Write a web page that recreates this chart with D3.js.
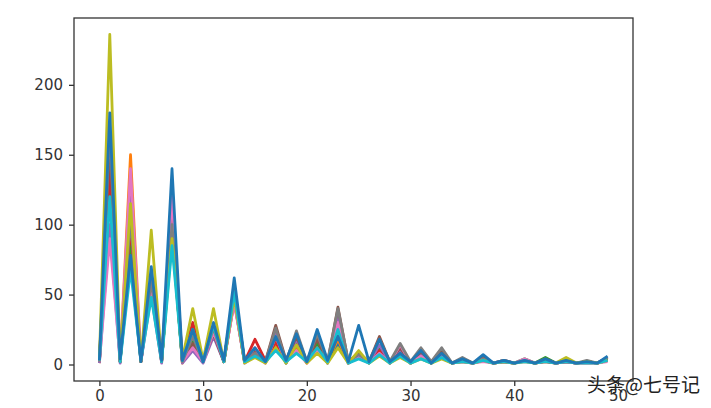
<!DOCTYPE html>
<html>
<head>
<meta charset="utf-8">
<script src="https://cdn.jsdelivr.net/npm/d3@7"></script>
<style>
  body { margin: 0; background: #fff; }
  .axis text { font-family: "DejaVu Sans", sans-serif; font-size: 15px; fill: #333; }
  .axis path, .axis line { stroke: #333; }
</style>
</head>
<body>
<div id="chart"></div>
<script>
// x index 0..49
var xs = d3.range(50);

// series (tab10 colour cycle, 11th line wraps back to blue)
var s0 = [2,120,3,75,2,62,3,95,2,20,3,28,2,50,2,10,2,15,2,16,2,18,2,15,2,8,2,10,1,8,1,7,1,6,1,3,1,4,1,2,1,3,1,3,1,2,1,2,1,4];
var s1 = [1,150,2,150,3,55,2,100,1,22,2,25,3,48,2,8,1,14,2,12,1,14,2,18,1,6,2,9,1,7,1,5,1,6,1,3,1,3,1,2,1,3,1,2,1,2,1,1,1,3];
var s2 = [3,130,2,90,2,60,3,95,2,18,3,27,2,52,3,9,2,18,1,15,2,16,1,22,2,7,1,12,2,9,1,6,1,8,1,3,1,4,1,2,1,4,1,5,1,2,1,2,1,4];
var s3 = [2,140,3,100,2,58,2,110,3,30,2,24,2,45,2,18,3,16,2,14,3,12,2,25,1,5,2,10,1,8,2,7,1,5,1,2,1,3,1,2,1,3,1,2,1,2,1,2,1,3];
var s4 = [1,100,1,120,2,50,1,115,1,10,1,20,2,46,1,6,2,22,1,18,2,20,1,35,1,6,1,14,1,10,1,8,1,7,1,2,1,3,1,3,1,2,1,3,1,2,1,2,1,5];
var s5 = [3,160,2,110,3,65,2,105,2,15,3,22,2,50,2,10,2,28,3,20,2,18,2,41,2,8,2,20,2,12,1,9,2,10,1,4,1,5,1,3,1,3,1,4,1,3,1,2,1,4];
var s6 = [2,90,3,140,2,55,3,120,2,12,2,23,3,44,2,12,1,20,2,10,1,10,2,30,1,5,1,8,1,14,1,6,1,5,1,2,1,2,1,2,1,4,1,3,1,2,1,1,1,2];
var s7 = [2,170,2,105,2,60,2,100,2,20,2,26,2,55,2,8,2,26,2,24,2,22,2,40,2,7,2,18,2,15,2,12,2,12,1,5,1,4,1,3,1,3,1,3,1,2,1,3,1,5];
var s8 = [4,236,3,115,2,96,3,90,4,40,3,40,2,48,1,5,1,12,1,14,1,8,1,12,1,10,1,6,1,5,1,4,1,4,1,2,1,3,1,2,1,2,1,3,1,5,1,2,1,3];
var s9 = [3,120,2,68,3,48,2,85,3,25,2,28,2,52,2,6,2,10,2,8,2,12,2,25,1,4,1,7,1,6,1,4,1,5,1,2,1,3,1,2,1,2,1,2,1,2,1,1,1,3];
var s10 = [3,180,4,78,2,70,3,140,3,25,2,30,3,62,3,12,2,20,3,22,2,25,3,20,2,28,2,18,2,8,2,10,1,8,1,4,1,7,1,3,1,3,1,4,1,3,1,2,1,6];
var seriesList = [s0, s1, s2, s3, s4, s5, s6, s7, s8, s9, s10];

var colors = ["#1f77b4","#ff7f0e","#2ca02c","#d62728","#9467bd","#8c564b","#e377c2","#7f7f7f","#bcbd22","#17becf"];

var yTicks = [0, 50, 100, 150, 200];
var xTicks = [0, 10, 20, 30, 40, 50];

var W = 711, H = 408;
var margin = {top: 18, right: 78, bottom: 27, left: 74},
    width = W - margin.left - margin.right,
    height = H - margin.top - margin.bottom;

var svg = d3.select("#chart").append("svg")
    .attr("width", W)
    .attr("height", H);

var g = svg.append("g")
    .attr("transform", "translate(" + margin.left + "," + margin.top + ")");

// matplotlib style 5% margins
var xMin = d3.min(xs), xMax = d3.max(xs);
var xPad = (xMax - xMin) * 0.05;
var yMax = d3.max(seriesList, function(s) { return d3.max(s); }),
    yMin = d3.min(seriesList, function(s) { return d3.min(s); });
yMin = Math.min(0, yMin);
var yPad = (yMax - yMin) * 0.05;

var xScale = d3.scaleLinear().domain([xMin - xPad, xMax + xPad]).range([0, width]);
var yScale = d3.scaleLinear().domain([yMin - yPad, yMax + yPad]).range([height, 0]);

var line = d3.line()
    .x(function(d, i) { return xScale(xs[i]); })
    .y(function(d) { return yScale(d); });

// lines
g.selectAll(".series")
    .data(seriesList)
  .enter().append("path")
    .attr("class", "series")
    .attr("d", line)
    .attr("fill", "none")
    .attr("stroke", function(d, i) { return colors[i % colors.length]; })
    .attr("stroke-width", 2.8)
    .attr("stroke-linejoin", "round");

// axes
var xAxis = d3.axisBottom(xScale).tickValues(xTicks).tickSize(5).tickPadding(4).tickSizeOuter(0);
var yAxis = d3.axisLeft(yScale).tickValues(yTicks).tickSize(5).tickPadding(6).tickSizeOuter(0);

g.append("g")
    .attr("class", "axis x_axis")
    .attr("transform", "translate(0," + height + ")")
    .call(xAxis)
    .call(function(a) { a.select(".domain").remove(); });

g.append("g")
    .attr("class", "axis y_axis")
    .call(yAxis)
    .call(function(a) { a.select(".domain").remove(); });

// frame
g.append("rect")
    .attr("x", 0)
    .attr("y", 0)
    .attr("width", width)
    .attr("height", height)
    .attr("fill", "none")
    .attr("stroke", "#333")
    .attr("stroke-width", 1.3);

g.selectAll(".tick line").attr("stroke-width", 1.3);

// watermark (drawn over the "50" label, as in the source image)
svg.append("text")
    .attr("x", 700)
    .attr("y", 392)
    .attr("text-anchor", "end")
    .style("font-family", "'Noto Sans CJK SC', sans-serif")
    .style("font-size", "19px")
    .style("fill", "#222")
    .text("头条@七号记");
</script>
</body>
</html>
